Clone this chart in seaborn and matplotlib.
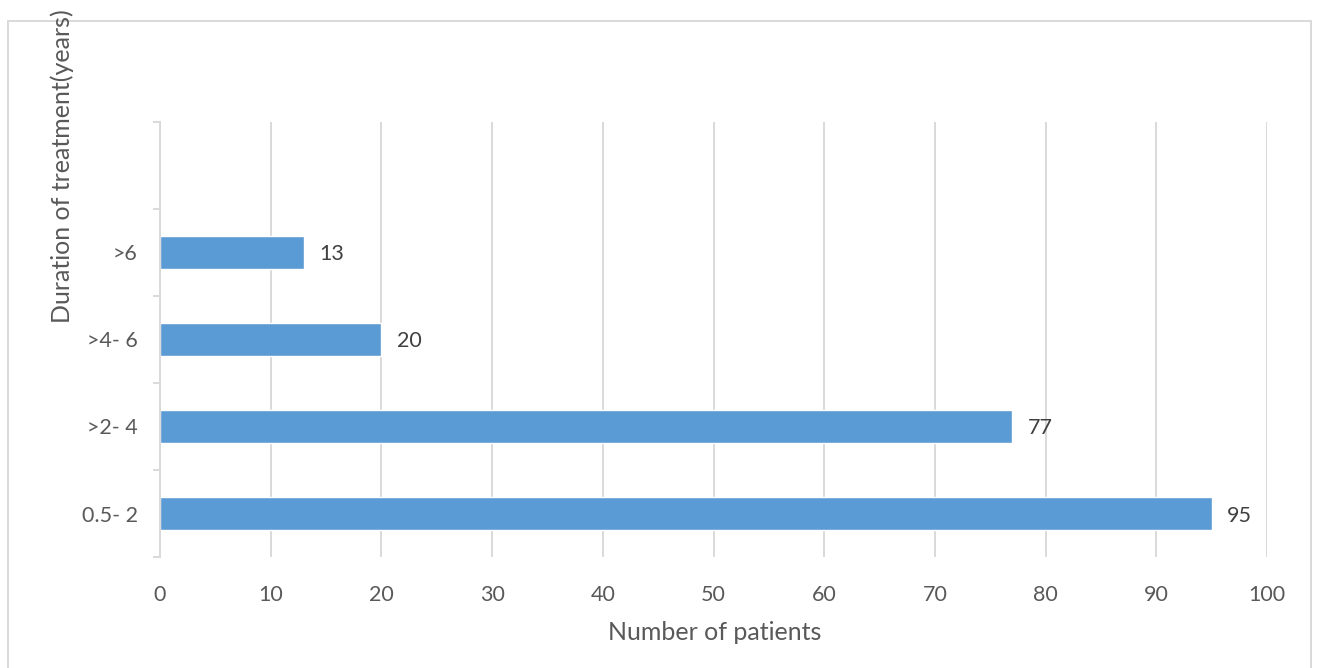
import matplotlib
matplotlib.use("Agg")
import matplotlib.pyplot as plt
from matplotlib.patches import Rectangle
import seaborn as sns
import pandas as pd
import numpy as np

# Patients by duration of treatment
durations = [">6", ">4- 6", ">2- 4", "0.5- 2"]
patients = [13, 20, 77, 95]
x_ticks = list(range(0, 101, 10))

sns.set_theme(style="white")
plt.rcParams["font.family"] = ["Lato", "DejaVu Sans"]

BAR = "#5b9bd5"
GRID = "#d9d9d9"
TICK_TXT = "#595959"
LABEL_TXT = "#404040"

df = pd.DataFrame({"duration": durations, "patients": patients})

W, H = 1320, 668
fig = plt.figure(figsize=(W / 100, H / 100), dpi=100)
ax = fig.add_axes([160 / W, 1 - 557 / H, (1267 - 160) / W, (557 - 122) / H])

sns.barplot(data=df, x="patients", y="duration", order=durations, orient="h",
            color=BAR, saturation=1, width=0.37, ax=ax, zorder=3)

ax.set_xlim(0, 100)
ax.set_ylim(3.5, -1.5)
ax.set_xticks(x_ticks)
ax.set_xticklabels([str(t) for t in x_ticks])

ax.grid(axis="x", color=GRID, linewidth=1.4, zorder=0)
ax.grid(axis="y", visible=False)

for side in ["top", "right", "bottom"]:
    ax.spines[side].set_visible(False)
ax.spines["left"].set_color(GRID)
ax.spines["left"].set_linewidth(1.4)
ax.spines["left"].set_zorder(4)

ax.set_yticks(np.arange(-1.5, 3.6, 1.0), minor=True)
ax.tick_params(axis="y", which="minor", length=5, width=1.4, color=GRID, left=True)
ax.tick_params(axis="y", which="major", length=0, pad=16, labelsize=15.5, labelcolor=TICK_TXT)
ax.tick_params(axis="x", which="major", length=0, pad=20, labelsize=15.5, labelcolor=TICK_TXT)

ax.set_xlabel("")
ax.set_ylabel("")

for cont in ax.containers:
    texts = ax.bar_label(cont, labels=[str(v) for v in patients], padding=11,
                         fontsize=15.5, color=LABEL_TXT)
    for t in texts:
        t.set_va("center_baseline")

fig.text(715 / W, 1 - 632 / H, "Number of patients", ha="center", va="center",
         fontsize=18, color=TICK_TXT)
fig.text(62 / W, 1 - 166 / H, "Duration of treatment(years)", ha="center", va="center",
         rotation=90, fontsize=18, color=TICK_TXT)

fig.patches.append(Rectangle((8 / W, -0.02), (1311 - 8) / W, (H - 21) / H + 0.02,
                             transform=fig.transFigure, fill=False,
                             edgecolor=GRID, linewidth=1.4))

fig.savefig("out.png", dpi=100, facecolor="white")
